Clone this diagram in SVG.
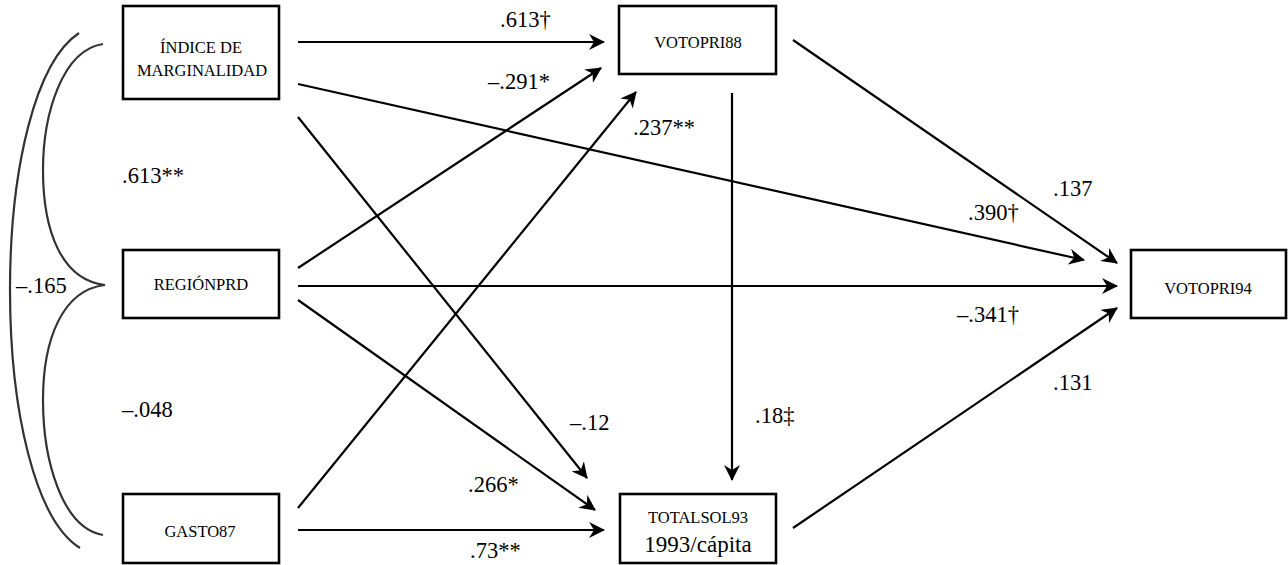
<svg xmlns="http://www.w3.org/2000/svg" width="1288" height="565" viewBox="0 0 1288 565">
<defs>
<marker id="ah" viewBox="0 0 16 16" refX="15" refY="8" markerWidth="16" markerHeight="16" markerUnits="userSpaceOnUse" orient="auto">
<path d="M0,0 L16,8 L0,16 L5,8 z" fill="#000"/>
</marker>
<style>
.box{fill:#fff;stroke:#000;stroke-width:2.6}
.nt{font-family:"Liberation Serif","Times New Roman",serif;font-size:16.5px;fill:#000;text-anchor:middle}
.lb{font-family:"Liberation Serif","Times New Roman",serif;font-size:22.5px;fill:#000}
.cn{stroke:#000;stroke-width:2.2;fill:none;marker-end:url(#ah)}
.br{stroke:#333;stroke-width:2.2;fill:none}
</style>
</defs>
<rect width="1288" height="565" fill="#fff"/>
<g id="brackets">
<path class="br" d="M79,33 C35,62 10,170 10,290 C10,410 35,520 80,548"/>
<path class="br" d="M103,44 C62,50 43,115 43,170 C43,232 62,280 105,285 C62,290 43,340 43,400 C43,460 62,528 103,535"/>
</g>
<g id="connectors">
<line class="cn" x1="298" y1="42" x2="604" y2="42"/>
<line class="cn" x1="298" y1="84" x2="1084" y2="260"/>
<line class="cn" x1="298" y1="117" x2="587" y2="478"/>
<line class="cn" x1="298" y1="268" x2="601" y2="68"/>
<line class="cn" x1="298" y1="286" x2="1117" y2="286"/>
<line class="cn" x1="298" y1="300" x2="595" y2="510"/>
<line class="cn" x1="298" y1="508" x2="636" y2="92"/>
<line class="cn" x1="298" y1="530" x2="604" y2="530"/>
<line class="cn" x1="732" y1="93" x2="732" y2="480"/>
<line class="cn" x1="793" y1="40" x2="1117" y2="263"/>
<line class="cn" x1="793" y1="528" x2="1117" y2="308"/>
</g>
<g id="node-indice">
<rect class="box" x="123" y="6" width="156" height="93"/>
<text class="nt" x="201" y="53">ÍNDICE DE</text>
<text class="nt" x="202" y="76">MARGINALIDAD</text>
</g>
<g id="node-regionprd">
<rect class="box" x="123" y="250" width="156" height="68"/>
<text class="nt" x="201" y="290">REGIÓNPRD</text>
</g>
<g id="node-gasto87">
<rect class="box" x="123" y="494" width="156" height="69"/>
<text class="nt" x="200" y="537">GASTO87</text>
</g>
<g id="node-votopri88">
<rect class="box" x="619" y="6" width="157" height="68"/>
<text class="nt" x="698" y="48">VOTOPRI88</text>
</g>
<g id="node-totalsol93">
<rect class="box" x="620" y="494" width="156" height="69"/>
<text class="nt" x="698" y="523">TOTALSOL93</text>
<text class="nt" x="698" y="552" style="font-size:23px">1993/cápita</text>
</g>
<g id="node-votopri94">
<rect class="box" x="1131" y="250" width="155" height="68"/>
<text class="nt" x="1208" y="294">VOTOPRI94</text>
</g>
<g id="labels" font-family="Liberation Serif, serif">
<text class="lb" x="500" y="27">.613†</text>
<text class="lb" x="488" y="89">–.291*</text>
<text class="lb" x="633" y="135">.237**</text>
<text class="lb" x="122" y="183">.613**</text>
<text class="lb" x="16" y="293">–.165</text>
<text class="lb" x="122" y="417">–.048</text>
<text class="lb" x="1053" y="196">.137</text>
<text class="lb" x="968" y="220">.390†</text>
<text class="lb" x="957" y="322">–.341†</text>
<text class="lb" x="1053" y="390">.131</text>
<text class="lb" x="570" y="430">–.12</text>
<text class="lb" x="755" y="423">.18‡</text>
<text class="lb" x="468" y="492">.266*</text>
<text class="lb" x="470" y="558">.73**</text>
</g>
</svg>
